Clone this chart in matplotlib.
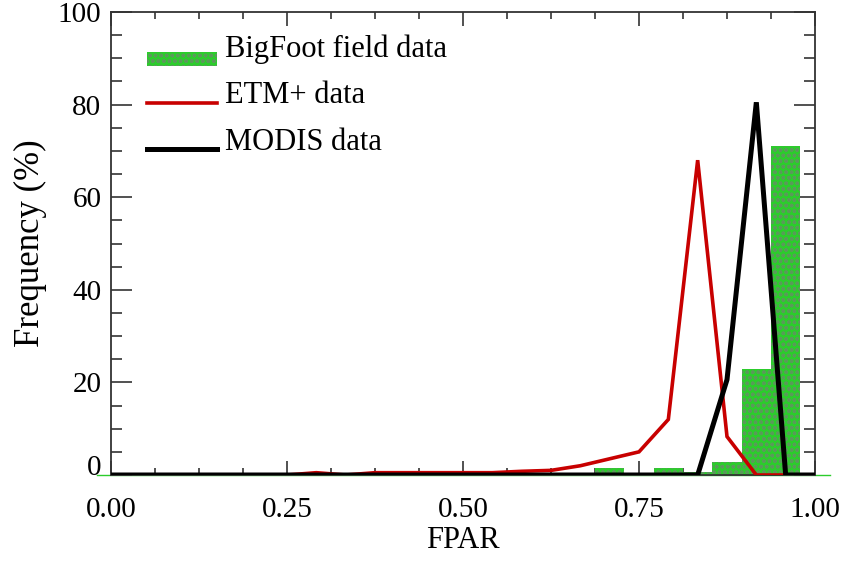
import matplotlib
matplotlib.use("Agg")
import matplotlib.pyplot as plt
from matplotlib.lines import Line2D
from matplotlib.patches import Rectangle
import numpy as np

# ---- data (FPAR bins of width 1/24, values in %) ----
bin_width = 1 / 24
bigfoot_fpar = [17/24, 19/24, 20/24, 21/24, 22/24, 23/24]
bigfoot_freq = [1.5, 1.5, 0.6, 2.9, 23.0, 71.0]

etm_fpar = [k / 24 for k in range(24)]
etm_freq = [0, 0, 0, 0, 0, 0, 0, 0.5, 0, 0.5, 0.5, 0.5, 0.5, 0.5,
            0.8, 1.0, 2.0, 3.5, 5.0, 12.0, 68.0, 8.3, 0, 0]

modis_fpar = [k / 24 for k in range(25)]
modis_freq = [0] * 20 + [0, 20.6, 80.5, 0, 0]

legend_labels = ["BigFoot field data", "ETM+ data", "MODIS data"]
x_ticks = [0.0, 0.25, 0.5, 0.75, 1.0]
x_ticklabels = ["0.00", "0.25", "0.50", "0.75", "1.00"]
y_ticks = [0, 20, 40, 60, 80, 100]

# ---- style ----
plt.rcParams["font.family"] = ["Liberation Serif", "DejaVu Serif"]
plt.rcParams["hatch.linewidth"] = 1.0
GREEN = "#2ccc2c"
GREEN_DOT = "#5a9a5a"
RED = "#c80000"
BLACK = "#000000"

fig = plt.figure(figsize=(8.45, 5.64), dpi=100)
ax = fig.add_axes([111/845, 1 - 475/564, (815-111)/845, (475-12)/564])

bars = ax.bar(bigfoot_fpar, bigfoot_freq, width=bin_width, facecolor=GREEN,
              edgecolor=GREEN_DOT, linewidth=0, hatch="ooo", zorder=2)
ax.plot([-0.02, 1.021], [0, 0], color=GREEN, lw=1.0, clip_on=False, zorder=1)
ax.plot(etm_fpar, etm_freq, color=RED, lw=2.6, zorder=3, solid_joinstyle="miter")
ax.plot(modis_fpar, modis_freq, color=BLACK, lw=3.6, zorder=4, solid_joinstyle="miter")

ax.set_xlim(0, 1)
ax.set_ylim(0, 100)
ax.set_xticks(x_ticks)
ax.set_xticklabels(x_ticklabels)
ax.set_xticks(np.arange(0, 1.0001, 0.0625), minor=True)
ax.set_yticks(y_ticks)
ax.set_yticks(np.arange(0, 100.1, 5), minor=True)

ax.tick_params(axis="both", which="both", direction="in", top=True, right=True,
               colors="#333333", labelcolor="black", labelsize=21, width=1.2)
ax.tick_params(axis="y", which="major", length=15, pad=7)
ax.tick_params(axis="y", which="minor", length=8)
ax.tick_params(axis="x", which="major", length=10, pad=16)
ax.tick_params(axis="x", which="minor", length=5)
for s in ax.spines.values():
    s.set_color("#333333")
    s.set_linewidth(1.3)

ax.yaxis.get_major_ticks()[0].label1.set_verticalalignment("baseline")

ax.set_xlabel("FPAR", fontsize=22, labelpad=2)
ax.set_ylabel("Frequency (%)", fontsize=25, labelpad=8)

# ---- legend (handles aligned with text baseline, as in the original) ----
tr = ax.transAxes
def ax_xy(px, py):
    return ((px - 111) / 704, (475 - py) / 463)

x0, _ = ax_xy(147, 0)
x1, _ = ax_xy(217, 0)
xt, _ = ax_xy(225, 0)
_, yg0 = ax_xy(0, 66)
_, yg1 = ax_xy(0, 52)
ax.add_patch(Rectangle((x0, yg0), x1 - x0, yg1 - yg0, transform=tr,
                       facecolor=GREEN, edgecolor=GREEN_DOT, linewidth=0,
                       hatch="ooo", zorder=5))
_, yr = ax_xy(0, 103)
ax.add_line(Line2D([x0, x1], [yr, yr], transform=tr, color=RED, lw=2.6, zorder=5))
_, yb = ax_xy(0, 149)
ax.add_line(Line2D([x0, x1], [yb, yb], transform=tr, color=BLACK, lw=3.6, zorder=5))
for lab, py in zip(legend_labels, [57, 103, 150]):
    _, yy = ax_xy(0, py)
    ax.text(xt, yy, lab, transform=tr, fontsize=22, va="baseline", ha="left")

fig.savefig("out.png", dpi=100)
